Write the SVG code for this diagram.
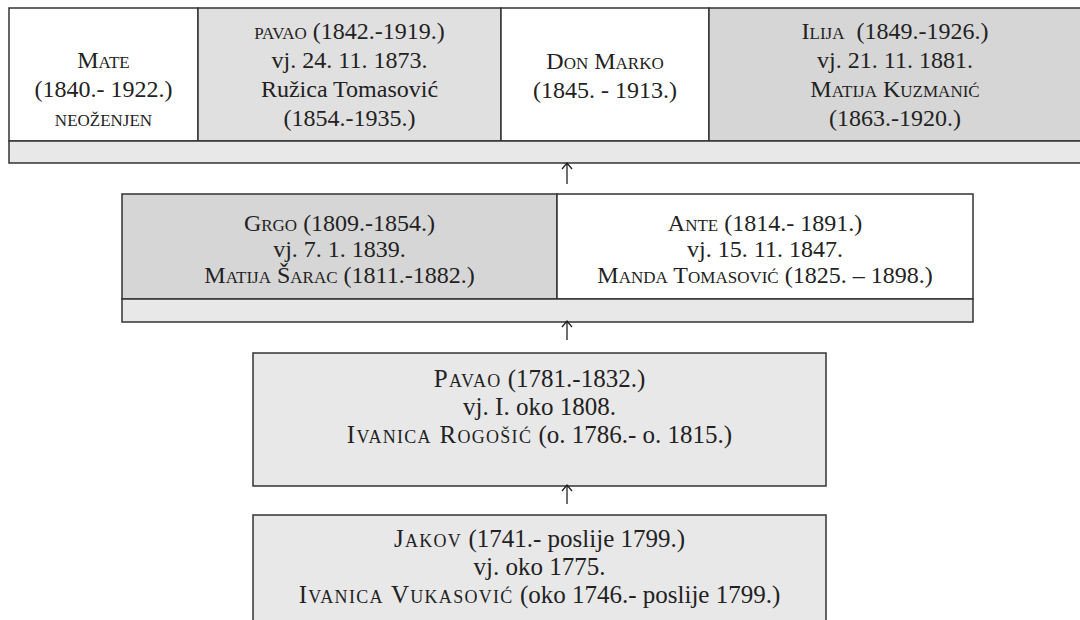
<svg xmlns="http://www.w3.org/2000/svg" width="1080" height="620" viewBox="0 0 1080 620">
<style>
.box{stroke:#333;stroke-width:1.5}
.w{fill:#ffffff}.g1{fill:#e0e0e0}.g2{fill:#d6d6d6}.g3{fill:#e8e8e8}
.sc{font-variant:small-caps}
.sc2{font-variant:small-caps;letter-spacing:1.3px}
.arr{fill:none;stroke:#222;stroke-width:1.3}
</style>
<rect width="1080" height="620" fill="#ffffff"/>
<g font-family="Liberation Serif, DejaVu Serif, serif" font-size="24" fill="#222" text-anchor="middle">
<g id="gen4">
  <g id="mate">
    <rect class="box w" x="9" y="8" width="189" height="133"/>
    <text x="103.5" y="68"><tspan class="sc">Mate</tspan></text>
    <text x="103.5" y="97">(1840.- 1922.)</text>
    <text x="103.5" y="126" class="sc">neoženjen</text>
  </g>
  <g id="pavao2">
    <rect class="box g1" x="198" y="8" width="303" height="133"/>
    <text x="349.5" y="39"><tspan class="sc">pavao</tspan> (1842.-1919.)</text>
    <text x="349.5" y="68">vj. 24. 11. 1873.</text>
    <text x="349.5" y="97">Ružica Tomasović</text>
    <text x="349.5" y="126">(1854.-1935.)</text>
  </g>
  <g id="donmarko">
    <rect class="box w" x="501" y="8" width="208" height="133"/>
    <text x="605" y="69" class="sc">Don Marko</text>
    <text x="605" y="98">(1845. - 1913.)</text>
  </g>
  <g id="ilija">
    <rect class="box g2" x="709" y="8" width="373" height="133"/>
    <text x="895" y="39" xml:space="preserve"><tspan class="sc">Ilija</tspan>  (1849.-1926.)</text>
    <text x="895" y="68">vj. 21. 11. 1881.</text>
    <text x="895" y="97" class="sc">Matija Kuzmanić</text>
    <text x="895" y="126">(1863.-1920.)</text>
  </g>
  <rect id="bar4" class="box g3" x="9" y="141" width="1073" height="22"/>
</g>
<g id="gen3">
  <g id="grgo">
    <rect class="box g2" x="122" y="194" width="435" height="105"/>
    <text x="339.5" y="231"><tspan class="sc">Grgo</tspan> (1809.-1854.)</text>
    <text x="339.5" y="257">vj. 7. 1. 1839.</text>
    <text x="339.5" y="283"><tspan class="sc">Matija Šarac</tspan> (1811.-1882.)</text>
  </g>
  <g id="ante">
    <rect class="box w" x="557" y="194" width="416" height="105"/>
    <text x="765" y="231"><tspan class="sc">Ante</tspan> (1814.- 1891.)</text>
    <text x="765" y="257">vj. 15. 11. 1847.</text>
    <text x="765" y="283"><tspan class="sc">Manda Tomasović</tspan> (1825. – 1898.)</text>
  </g>
  <rect id="bar3" class="box g3" x="122" y="299" width="851" height="23"/>
</g>
<g id="pavao1" font-size="25">
  <rect class="box g3" x="253" y="353" width="573" height="133"/>
  <text x="539.5" y="387"><tspan class="sc2">Pavao</tspan> (1781.-1832.)</text>
  <text x="539.5" y="415">vj. I. oko 1808.</text>
  <text x="539.5" y="443"><tspan class="sc2">Ivanica Rogošić</tspan> (o. 1786.- o. 1815.)</text>
</g>
<g id="jakov" font-size="25">
  <rect class="box g3" x="253" y="515" width="573" height="120"/>
  <text x="539.5" y="547"><tspan class="sc2">Jakov</tspan> (1741.- poslije 1799.)</text>
  <text x="539.5" y="575">vj. oko 1775.</text>
  <text x="539.5" y="603"><tspan class="sc2">Ivanica Vukasović</tspan> (oko 1746.- poslije 1799.)</text>
</g>
</g>
<g id="connectors">
  <path class="arr" d="M567,184 V163 M562,169 L567,163 L572,169"/>
  <path class="arr" d="M567,340 V321 M562,327 L567,321 L572,327"/>
  <path class="arr" d="M567,504 V485 M562,491 L567,485 L572,491"/>
</g>
</svg>
